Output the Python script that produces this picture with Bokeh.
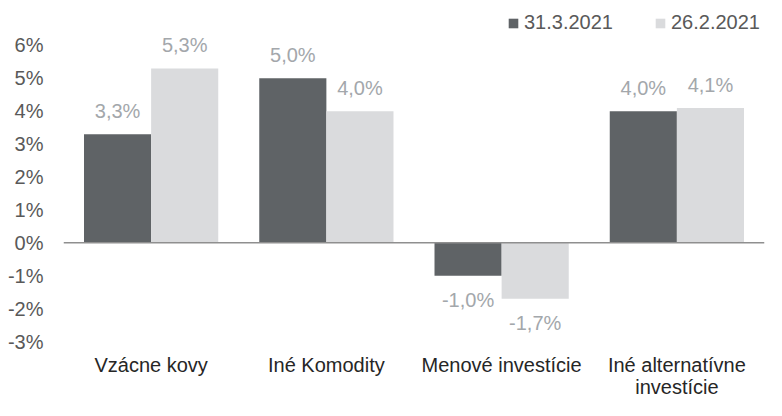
from bokeh.plotting import figure
from bokeh.models import FactorRange, Range1d, FixedTicker, Span, Legend, LegendItem, ColumnDataSource
from bokeh.transform import dodge
from bokeh.core.properties import value
from bokeh.embed import file_html
from bokeh.resources import INLINE

categories = ["Vzácne kovy", "Iné Komodity", "Menové investície", "Iné alternatívne\ninvestície"]
series_names = ["31.3.2021", "26.2.2021"]
values_mar = [3.3, 5.0, -1.0, 4.0]
values_feb = [5.3, 4.0, -1.7, 4.1]
y_ticks = [-3, -2, -1, 0, 1, 2, 3, 4, 5, 6]

FONT = "Liberation Sans"
DARK = "#5f6366"
LIGHT = "#dadbdd"
LBL = "#a3a7ab"
FS = "20px"


def fmt(v):
    return f"{v:.1f}".replace(".", ",") + "%"


def offs(vals):
    return [-23 if v >= 0 else 24 for v in vals]


src = ColumnDataSource(dict(
    cat=categories,
    mar=values_mar,
    feb=values_feb,
    mar_lbl=[fmt(v) for v in values_mar],
    feb_lbl=[fmt(v) for v in values_feb],
    mar_off=offs(values_mar),
    feb_off=offs(values_feb),
))

p = figure(width=766, height=400, x_range=FactorRange(*categories),
           y_range=Range1d(-3.243, 7.365),
           output_backend="svg", toolbar_location=None,
           min_border_left=63, min_border_right=2, min_border_top=0, min_border_bottom=0)
p.outline_line_color = None
p.xgrid.visible = False
p.ygrid.visible = False
p.background_fill_color = "white"
p.border_fill_color = "white"

BW = 0.383
OFF = BW / 2
r1 = p.vbar(x=dodge("cat", -OFF, range=p.x_range), top="mar", bottom=0, width=BW,
            fill_color=DARK, line_color=None, source=src)
r2 = p.vbar(x=dodge("cat", OFF, range=p.x_range), top="feb", bottom=0, width=BW,
            fill_color=LIGHT, line_color=None, source=src)

p.add_layout(Span(location=0, dimension="width", line_color="#8f8f8f", line_width=1.5))

for xo, ycol, tcol, ocol in [(-OFF, "mar", "mar_lbl", "mar_off"), (OFF, "feb", "feb_lbl", "feb_off")]:
    p.text(x=dodge("cat", xo, range=p.x_range), y=ycol, text=tcol, y_offset=ocol,
           text_align="center", text_baseline="middle",
           text_font=value(FONT), text_font_size=FS, text_color=LBL, source=src)

p.yaxis.ticker = FixedTicker(ticks=y_ticks)
p.yaxis.major_label_overrides = {t: f"{t}%" for t in y_ticks}
p.yaxis.axis_line_color = None
p.yaxis.major_tick_line_color = None
p.yaxis.minor_tick_line_color = None
p.yaxis.major_tick_out = 0
p.yaxis.major_tick_in = 0
p.yaxis.major_label_standoff = 20
p.yaxis.major_label_text_font = FONT
p.yaxis.major_label_text_font_size = FS
p.yaxis.major_label_text_color = "#595959"

p.xaxis.axis_line_color = None
p.xaxis.major_tick_line_color = None
p.xaxis.major_tick_out = 0
p.xaxis.major_tick_in = 0
p.xaxis.major_label_standoff = 4
p.xaxis.major_label_text_line_height = 1.0
p.xaxis.major_label_text_font = FONT
p.xaxis.major_label_text_font_size = FS
p.xaxis.major_label_text_color = "#262626"

legend = Legend(items=[LegendItem(label=series_names[0], renderers=[r1]),
                       LegendItem(label=series_names[1], renderers=[r2])],
                orientation="horizontal", location=(444, 315),
                border_line_color=None, background_fill_alpha=0,
                glyph_width=12, glyph_height=12, label_standoff=5, spacing=41,
                padding=0, margin=0,
                label_text_font=FONT, label_text_font_size=FS, label_text_color="#595959")
p.add_layout(legend)

open("out.html", "w").write(file_html(p, INLINE))
